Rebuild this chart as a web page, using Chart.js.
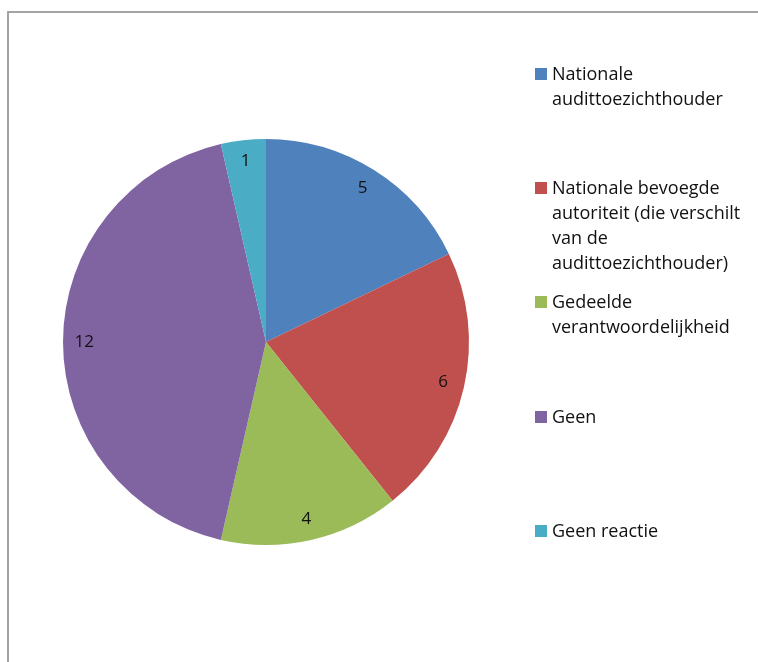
<!DOCTYPE html>
<html>
<head>
<meta charset="utf-8">
<script src="https://cdn.jsdelivr.net/npm/chart.js@4"></script>
<style>
  html, body { margin: 0; padding: 0; background: #fff; overflow: hidden; }
  #wrap { position: relative; width: 758px; height: 662px; overflow: hidden; }
  #frame {
    position: absolute; left: 7px; top: 11px; width: 900px; height: 800px;
    border-left: 2px solid #a3a3a3; border-top: 2px solid #a3a3a3;
  }
  #myChart { position: absolute; left: 0; top: 0; }
  .legend_item { position: absolute; left: 535px; font-family: "Open Sans", sans-serif; font-size: 18px; line-height: 25px; color: #111; }
  .legend_box { position: absolute; left: 0; top: 7px; width: 12px; height: 12px; }
  .legend_text { position: absolute; left: 17px; top: 0; white-space: nowrap; }
</style>
</head>
<body>
<div id="wrap">
  <div id="frame"></div>
  <canvas id="myChart" width="758" height="662"></canvas>
  <div id="legend"></div>
</div>
<script>
// categories, one entry per slice (each string is a legend line)
var categories = [
    ['Nationale', 'audittoezichthouder'],
    ['Nationale bevoegde', 'autoriteit (die verschilt', 'van de', 'audittoezichthouder)'],
    ['Gedeelde', 'verantwoordelijkheid'],
    ['Geen'],
    ['Geen reactie']
];
var counts = [5, 6, 4, 12, 1];
var colors = ['#4f81bd', '#c0504d', '#9bbb59', '#8064a2', '#4bacc6'];

// legend on the right, rows evenly spaced
var legendTops = [61, 175, 289, 404, 518];
var legend = document.getElementById('legend');
categories.forEach(function(lines, i) {
    var item = document.createElement('div');
    item.className = 'legend_item';
    item.style.top = legendTops[i] + 'px';
    var box = document.createElement('div');
    box.className = 'legend_box';
    box.style.background = colors[i];
    var text = document.createElement('div');
    text.className = 'legend_text';
    text.innerHTML = lines.join('<br>');
    item.appendChild(box);
    item.appendChild(text);
    legend.appendChild(item);
});

// value labels inside each slice, near the outer edge
var sliceLabels = {
    id: 'sliceLabels',
    afterDatasetsDraw: function(chart) {
        var ctx = chart.ctx;
        var meta = chart.getDatasetMeta(0);
        ctx.save();
        ctx.font = '17px "Open Sans", sans-serif';
        ctx.fillStyle = '#111';
        ctx.textAlign = 'center';
        ctx.textBaseline = 'middle';
        meta.data.forEach(function(arc, i) {
            var p = arc.getProps(['x', 'y', 'startAngle', 'endAngle', 'outerRadius'], true);
            var mid = (p.startAngle + p.endAngle) / 2;
            var r = p.outerRadius * 0.895;
            ctx.fillText(String(chart.data.datasets[0].data[i]), p.x + Math.cos(mid) * r, p.y + Math.sin(mid) * r);
        });
        ctx.restore();
    }
};

var ctx = document.getElementById('myChart').getContext('2d');

var chart = new Chart(ctx, {
    type: 'pie',
    data: {
        labels: categories.map(function(l) { return l.join(' '); }),
        datasets: [{
            data: counts,
            backgroundColor: colors,
            borderWidth: 0
        }]
    },
    options: {
        responsive: false,
        animation: false,
        layout: { padding: { left: 63, top: 139, right: 289, bottom: 117 } },
        plugins: {
            legend: { display: false },
            tooltip: { enabled: false }
        }
    },
    plugins: [sliceLabels]
});
</script>
</body>
</html>
